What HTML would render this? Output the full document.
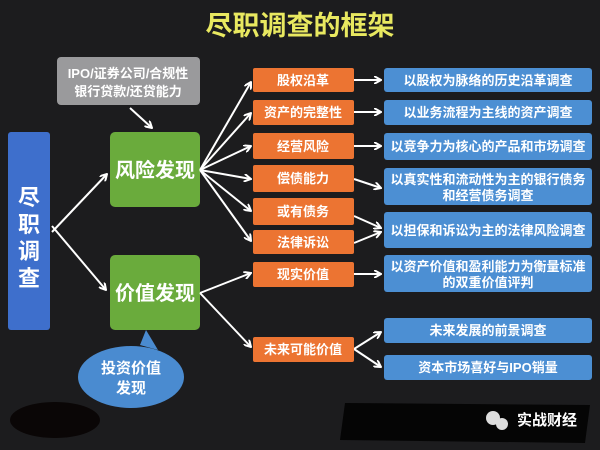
<!DOCTYPE html>
<html><head><meta charset="utf-8"><style>
html,body{margin:0;padding:0;background:#1b1b1d;}
svg{display:block;}
text{font-family:"Liberation Sans","Noto Sans CJK SC",sans-serif;font-weight:bold;}
</style></head><body>
<svg width="600" height="450" viewBox="0 0 600 450" xmlns="http://www.w3.org/2000/svg">
<defs>
<marker id="a" markerWidth="8" markerHeight="8" refX="7" refY="4" orient="auto" markerUnits="userSpaceOnUse">
<path d="M0,0 L7,4 L0,8" fill="none" stroke="#fff" stroke-width="2"/></marker>
</defs>
<rect width="600" height="450" fill="#1c1c1e"/>
<text x="300" y="35" text-anchor="middle" font-size="27" fill="#e8e860">尽职调查的框架</text>
<rect x="57" y="57" width="143" height="48" rx="4" fill="#9a9a9c"/>
<text x="128" y="78" text-anchor="middle" font-size="13" fill="#fff">IPO/证券公司/合规性</text>
<text x="128" y="96" text-anchor="middle" font-size="13" fill="#fff">银行贷款/还贷能力</text>
<rect x="8" y="132" width="42" height="198" rx="3" fill="#3e6fcc"/>
<text x="29" y="205" text-anchor="middle" font-size="22" fill="#fff">尽</text>
<text x="29" y="232" text-anchor="middle" font-size="22" fill="#fff">职</text>
<text x="29" y="259" text-anchor="middle" font-size="22" fill="#fff">调</text>
<text x="29" y="286" text-anchor="middle" font-size="22" fill="#fff">查</text>
<rect x="110" y="132" width="90" height="75" rx="5" fill="#6aab3c"/>
<text x="155" y="177" text-anchor="middle" font-size="20" fill="#fff">风险发现</text>
<rect x="110" y="255" width="90" height="75" rx="5" fill="#6aab3c"/>
<text x="155" y="300" text-anchor="middle" font-size="20" fill="#fff">价值发现</text>
<path d="M140,345 L146,330 L158,350 Z" fill="#4a8bd0"/>
<ellipse cx="131" cy="377" rx="53" ry="31" fill="#4a8bd0"/>
<text x="131" y="373" text-anchor="middle" font-size="15" fill="#fff">投资价值</text>
<text x="131" y="393" text-anchor="middle" font-size="15" fill="#fff">发现</text>
<g stroke="#fff" stroke-width="2" fill="none" marker-end="url(#a)">
<line x1="130" y1="108" x2="152" y2="128"/>
<line x1="52" y1="232" x2="107" y2="174"/>
<line x1="52" y1="226" x2="106" y2="290"/>
<line x1="200" y1="170" x2="251" y2="82"/>
<line x1="200" y1="170" x2="251" y2="113"/>
<line x1="200" y1="170" x2="251" y2="146"/>
<line x1="200" y1="170" x2="251" y2="179"/>
<line x1="200" y1="170" x2="251" y2="211"/>
<line x1="200" y1="170" x2="251" y2="241"/>
<line x1="200" y1="293" x2="251" y2="273"/>
<line x1="200" y1="293" x2="251" y2="347"/>
<line x1="354" y1="80" x2="381" y2="80"/>
<line x1="354" y1="112" x2="381" y2="112"/>
<line x1="354" y1="146" x2="381" y2="146"/>
<line x1="354" y1="179" x2="381" y2="188"/>
<line x1="354" y1="216" x2="381" y2="228"/>
<line x1="354" y1="243" x2="381" y2="232"/>
<line x1="354" y1="274" x2="381" y2="274"/>
<line x1="354" y1="349" x2="381" y2="332"/>
<line x1="354" y1="349" x2="381" y2="367"/>
</g>
<g fill="#ec7432">
<rect x="253" y="68" width="101" height="24" rx="2"/>
<rect x="253" y="100" width="101" height="25" rx="2"/>
<rect x="253" y="133" width="101" height="26" rx="2"/>
<rect x="253" y="165" width="101" height="27" rx="2"/>
<rect x="253" y="198" width="101" height="27" rx="2"/>
<rect x="253" y="230" width="101" height="24" rx="2"/>
<rect x="253" y="262" width="101" height="25" rx="2"/>
<rect x="253" y="337" width="101" height="25" rx="2"/>
</g>
<g fill="#fff" font-size="13" text-anchor="middle">
<text x="303" y="85">股权沿革</text>
<text x="303" y="117">资产的完整性</text>
<text x="303" y="151">经营风险</text>
<text x="303" y="183">偿债能力</text>
<text x="303" y="216">或有债务</text>
<text x="303" y="247">法律诉讼</text>
<text x="303" y="279">现实价值</text>
<text x="303" y="354">未来可能价值</text>
</g>
<g fill="#4c8fd3">
<rect x="384" y="68" width="208" height="24" rx="3"/>
<rect x="384" y="100" width="208" height="25" rx="3"/>
<rect x="384" y="133" width="208" height="27" rx="3"/>
<rect x="384" y="168" width="208" height="37" rx="3"/>
<rect x="384" y="212" width="208" height="36" rx="3"/>
<rect x="384" y="255" width="208" height="37" rx="3"/>
<rect x="384" y="318" width="208" height="25" rx="3"/>
<rect x="384" y="355" width="208" height="25" rx="3"/>
</g>
<g fill="#fff" font-size="13" text-anchor="middle">
<text x="488" y="85">以股权为脉络的历史沿革调查</text>
<text x="488" y="117">以业务流程为主线的资产调查</text>
<text x="488" y="151">以竞争力为核心的产品和市场调查</text>
<text x="488" y="184">以真实性和流动性为主的银行债务</text>
<text x="488" y="200">和经营债务调查</text>
<text x="488" y="235">以担保和诉讼为主的法律风险调查</text>
<text x="488" y="271">以资产价值和盈利能力为衡量标准</text>
<text x="488" y="287">的双重价值评判</text>
<text x="488" y="335">未来发展的前景调查</text>
<text x="488" y="372">资本市场喜好与IPO销量</text>
</g>
<ellipse cx="55" cy="420" rx="45" ry="18" fill="#0a0606"/>
<path d="M345,403 L590,405 L585,443 L340,440 Z" fill="#050505"/>
<circle cx="493" cy="418" r="7" fill="#ddd"/><circle cx="502" cy="424" r="6" fill="#ddd"/>
<text x="547" y="425" text-anchor="middle" font-size="15" fill="#fff" font-weight="normal">实战财经</text>
</svg>
</body></html>
